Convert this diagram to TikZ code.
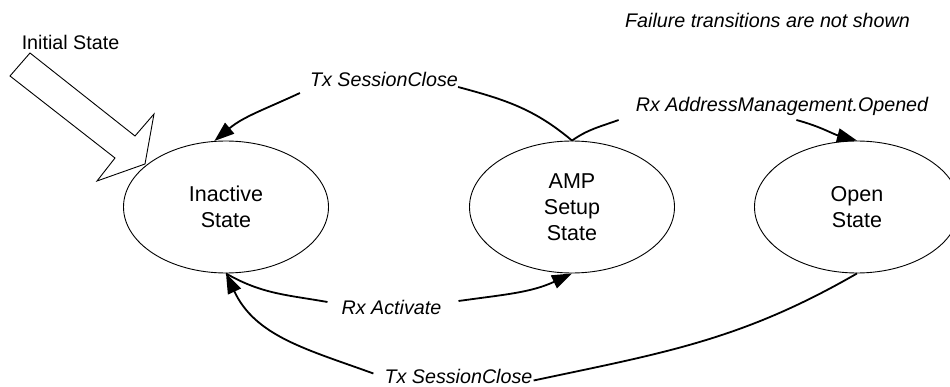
\documentclass[tikz,border=0pt]{standalone}
\usepackage{fontspec}
\setmainfont{Liberation Sans}
\usetikzlibrary{arrows.meta,shapes.geometric}
\begin{document}
\begin{tikzpicture}[x=1pt,y=-1pt,
  state/.style={ellipse, draw, line width=0.9pt, minimum width=205pt,
    minimum height=132pt, inner sep=0pt, align=center,
    font=\fontsize{21.5}{26}\selectfont},
  lbl/.style={inner sep=0pt, anchor=base, font=\fontsize{19.7}{24}\selectfont\itshape},
  note/.style={inner sep=0pt, anchor=base, font=\fontsize{19.7}{24}\selectfont},
  trans/.style={line width=1.8pt},
  arrowed/.style={-{Triangle[length=20pt,width=14pt]}}]
\useasboundingbox (0,0) rectangle (950,387);

% states
\node[state] (inactive) at (226,207) {Inactive\\State};
\node[state] (amp)      at (572,207) {AMP\\Setup\\State};
\node[state] (open)     at (857,207) {Open\\State};

% texts
\node[note] (init) at (70.5,49.5) {Initial State};
\node[lbl]  (fail) at (767.5,28) {Failure transitions are not shown};
\node[lbl]  (tsc1) at (384,87) {Tx SessionClose};
\node[lbl]  (rao)  at (782,112) {Rx AddressManagement.Opened};
\node[lbl]  (ra)   at (391.5,314) {Rx Activate};
\node[lbl]  (tsc2) at (458.5,383.5) {Tx SessionClose};

% initial-state pointer
\draw[line width=0.9pt, line join=miter]
  (30,53) -- (135,136) -- (154,114) -- (145,164) -- (97,181) -- (115,158) -- (10,76) -- cycle;

% AMP Setup -> Inactive
\draw[trans] (amp.north) to[out=140,in=-15] (tsc1.base east);
\draw[trans,arrowed] ([shift={(-10,6)}]tsc1.base west) to[out=205,in=40] (inactive.100);

% AMP Setup -> Open
\draw[trans] (amp.north) to[out=35,in=200] ([shift={(-17,8)}]rao.base west);
\draw[trans,arrowed] ([shift={(-132,8)}]rao.base east) to[out=-15,in=165] (open.north);

% Inactive -> AMP Setup
\draw[trans] (inactive.south) to[out=-30,in=170] ([shift={(-14,-12)}]ra.base west);
\draw[trans,arrowed] ([shift={(17,-13)}]ra.base east) to[out=8,in=205] (amp.south);

% Open -> Inactive
\draw[trans] (open.south) to[out=210,in=12] ([shift={(1,-3)}]tsc2.base east);
\draw[trans,arrowed] ([shift={(-11,-10)}]tsc2.base west) to[out=160,in=-65] (inactive.south);
\end{tikzpicture}
\end{document}
